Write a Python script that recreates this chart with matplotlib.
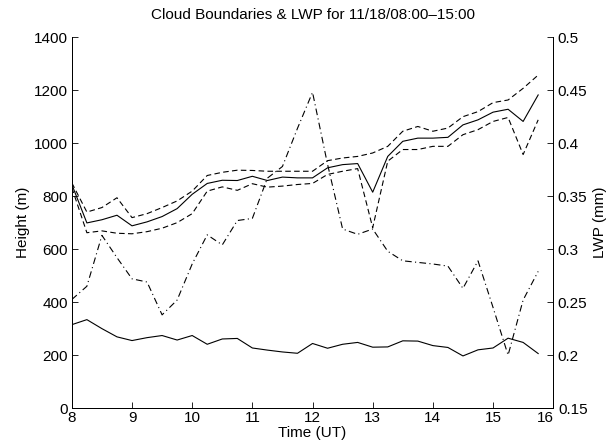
import matplotlib
matplotlib.use("Agg")
import matplotlib.pyplot as plt
import matplotlib.transforms as mtransforms
import numpy as np

plt.rcParams['font.family'] = ['Liberation Sans', 'DejaVu Sans']

# time in hours (UT), 15 min steps
time = np.arange(8.0, 16.0, 0.25)

cloud_top = [844, 699, 711, 728, 688, 703, 723, 753, 807, 848, 860, 859,
             875, 859, 872, 869, 869, 907, 919, 923, 815, 950, 1007, 1019,
             1019, 1022, 1069, 1088, 1117, 1128, 1082, 1182]
top_upper = [850, 740, 757, 794, 719, 734, 757, 782, 819, 878, 890, 898,
             897, 894, 894, 894, 894, 934, 944, 950, 963, 988, 1045, 1063,
             1045, 1057, 1100, 1119, 1153, 1163, 1207, 1257]
top_lower = [832, 662, 669, 660, 658, 666, 679, 700, 734, 819, 835, 822,
             847, 834, 838, 844, 848, 882, 894, 904, 681, 932, 976, 976,
             988, 988, 1032, 1051, 1082, 1097, 957, 1088]
cloud_base = [315, 334, 300, 269, 255, 266, 274, 257, 274, 241, 261, 263,
              227, 219, 212, 207, 244, 226, 241, 248, 230, 231, 254, 253,
              236, 229, 197, 220, 227, 264, 248, 206]
lwp = [0.2525, 0.265, 0.313, 0.292, 0.272, 0.269, 0.238, 0.252, 0.286, 0.3135,
       0.304, 0.327, 0.329, 0.367, 0.378, 0.414, 0.448, 0.380, 0.319, 0.314,
       0.319, 0.298, 0.289, 0.2875, 0.286, 0.284, 0.263, 0.289, 0.245, 0.200,
       0.252, 0.279]

fig = plt.figure(figsize=(6.14, 4.48), dpi=100)
ax = fig.add_axes([0.117, 0.089, 0.784, 0.828])
ax2 = ax.twinx()

lw = 0.8
ax.plot(time, cloud_top, 'k-', lw=lw)
ax.plot(time, top_upper, 'k--', lw=lw, dashes=(5, 3))
ax.plot(time, top_lower, 'k--', lw=lw, dashes=(5, 3))
ax.plot(time, cloud_base, 'k-', lw=lw)
ax2.plot(time, lwp, 'k-.', lw=lw, dashes=(6, 3, 1, 3))

ax.set_xlim(8, 16)
ax.set_ylim(0, 1400)
ax2.set_ylim(0.15, 0.5)
ax.set_xticks(range(8, 17))
ax.set_yticks(range(0, 1401, 200))
ax2.set_yticks([0.15, 0.2, 0.25, 0.3, 0.35, 0.4, 0.45, 0.5])
ax2.set_yticklabels(['0.15', '0.2', '0.25', '0.3', '0.35', '0.4', '0.45', '0.5'])

fs = 11
for a in (ax, ax2):
    a.spines['top'].set_visible(False)
    a.tick_params(direction='in', length=4, width=0.6, labelsize=fs, pad=2)
    for s in a.spines.values():
        s.set_linewidth(0.7)
ax.tick_params(axis='y', pad=3)
ax2.tick_params(axis='y', pad=3)

# the last x label and the lowest LWP label sit side by side, nudge them apart
fig.canvas.draw()
last_x = ax.get_xticklabels()[-1]
last_x.set_transform(last_x.get_transform() +
                     mtransforms.ScaledTranslation(-6 / 72, 0, fig.dpi_scale_trans))
low_r = ax2.get_yticklabels()[0]
low_r.set_transform(low_r.get_transform() +
                    mtransforms.ScaledTranslation(1 / 72, 0, fig.dpi_scale_trans))

ax.set_xlabel('Time (UT)', fontsize=fs, labelpad=1)
ax.set_ylabel('Height (m)', fontsize=fs, labelpad=3)
ax2.set_ylabel('LWP (mm)', fontsize=fs, labelpad=3)
ax.set_title('Cloud Boundaries & LWP for 11/18/08:00\u201315:00', fontsize=fs, pad=13)

fig.savefig('out.png', dpi=100)
